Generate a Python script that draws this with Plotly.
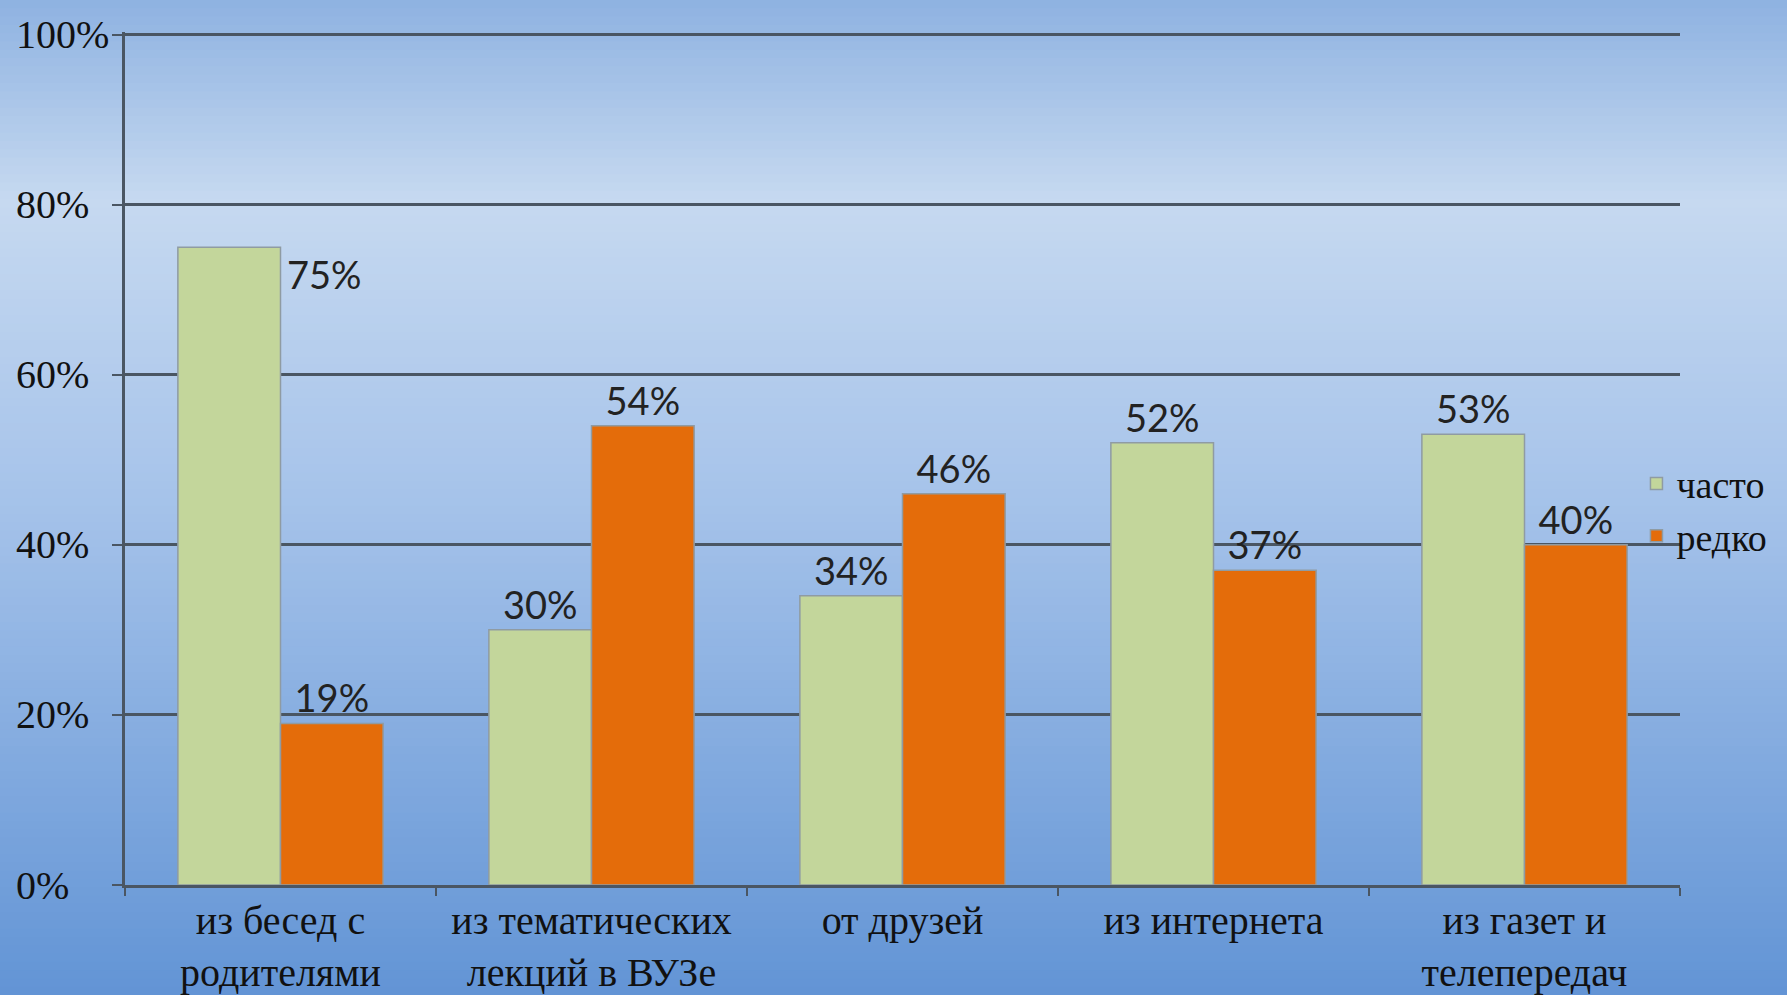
import plotly.graph_objects as go

# data
categories = ["из бесед с<br>родителями", "из тематических<br>лекций в ВУЗе",
              "от друзей", "из интернета", "из газет и<br>телепередач"]
often = [75, 30, 34, 52, 53]
rarely = [19, 54, 46, 37, 40]
series_names = ["часто", "редко"]
y_ticks = [0, 20, 40, 60, 80, 100]

W, H = 1787, 995
M = dict(l=125, r=107, t=32, b=110)
plot_w = W - M["l"] - M["r"]
plot_h = H - M["t"] - M["b"]

SERIF = "Liberation Serif, Times New Roman, serif"
SANS = "Lato, Open Sans, sans-serif"
GRID = "#4a5663"


def gradient_shapes(n=120):
    # vertical slide-like gradient behind the whole figure
    stops = [(0.0, (142, 178, 225)), (0.2, (198, 217, 240)),
             (0.5, (166, 195, 234)), (1.0, (98, 148, 213))]
    y_top = 1 + M["t"] / plot_h
    y_bot = -M["b"] / plot_h
    shapes = []
    for i in range(n):
        f = (i + 0.5) / n
        for (f0, c0), (f1, c1) in zip(stops[:-1], stops[1:]):
            if f0 <= f <= f1:
                t = (f - f0) / (f1 - f0)
                c = tuple(round(a + (b - a) * t) for a, b in zip(c0, c1))
                break
        y0 = y_top - (y_top - y_bot) * i / n
        y1 = y_top - (y_top - y_bot) * (i + 1) / n
        shapes.append(dict(type="rect", xref="paper", yref="paper",
                           x0=-0.2, x1=1.2, y0=y1 - 0.002, y1=y0,
                           fillcolor="rgb(%d,%d,%d)" % c, line=dict(width=0),
                           layer="below"))
    return shapes


fig = go.Figure()

often_text = ["" if i == 0 else f"{v}%" for i, v in enumerate(often)]
fig.add_trace(go.Bar(
    x=categories, y=often, name=series_names[0],
    marker=dict(color="#c3d69b", line=dict(color="#8f9ba3", width=1.5)),
    text=often_text, textposition="outside", cliponaxis=False,
    textfont=dict(family=SANS, size=38, color="#222222"),
))
fig.add_trace(go.Bar(
    x=categories, y=rarely, name=series_names[1],
    marker=dict(color="#e46c0a", line=dict(color="#8f9ba3", width=1.5)),
    text=[f"{v}%" for v in rarely], textposition="outside", cliponaxis=False,
    textfont=dict(family=SANS, size=38, color="#222222"),
))

# the first label sits beside its bar in the original
fig.add_annotation(x=categories[0], y=often[0], text=f"{often[0]}%",
                   showarrow=False, xanchor="left", yanchor="top",
                   xshift=4, yshift=-2,
                   font=dict(family=SANS, size=38, color="#222222"))

# y tick labels are left-aligned in the original
for v in y_ticks:
    fig.add_annotation(xref="paper", x=-111 / plot_w, y=v, yref="y",
                       text=f"{v}%", showarrow=False, xanchor="left",
                       yanchor="middle", font=dict(family=SERIF, size=40, color="#111111"))

fig.update_layout(
    width=W, height=H,
    margin=M,
    barmode="group", bargap=0.34, bargroupgap=0,
    paper_bgcolor="rgb(98,148,213)",
    plot_bgcolor="rgba(0,0,0,0)",
    shapes=gradient_shapes(),
    showlegend=True,
    legend=dict(x=0.972, y=0.44, xanchor="left", yanchor="middle",
                bgcolor="rgba(0,0,0,0)", itemwidth=30, tracegroupgap=0,
                font=dict(family=SERIF, size=38, color="#111111")),
    font=dict(family=SERIF, size=38, color="#111111"),
)

fig.update_xaxes(
    showline=True, linecolor=GRID, linewidth=2.5,
    ticks="outside", tickson="boundaries", ticklen=8, tickwidth=2, tickcolor=GRID,
    tickfont=dict(family=SERIF, size=40, color="#111111"),
    ticklabelstandoff=-2,
    showgrid=False, automargin=False,
)
fig.update_yaxes(
    range=[0, 100.3], tickvals=y_ticks, showticklabels=False,
    showline=True, linecolor=GRID, linewidth=2.5,
    ticks="outside", ticklen=10, tickwidth=2, tickcolor=GRID,
    showgrid=True, gridcolor=GRID, gridwidth=2.5,
    zeroline=False, automargin=False,
)

fig.write_html("out.html", config={"displayModeBar": False},
               post_script="document.body.style.margin='0';")
